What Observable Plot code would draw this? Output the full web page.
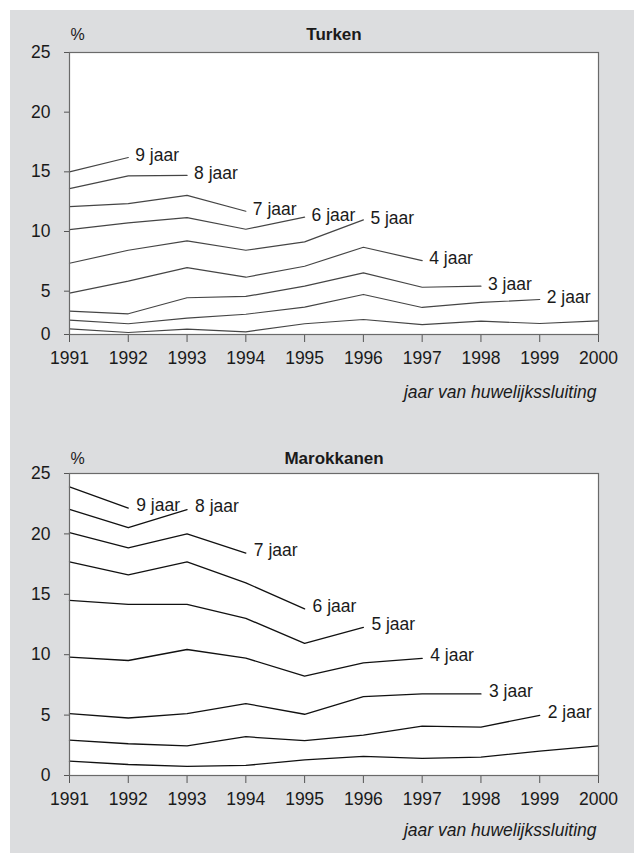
<!DOCTYPE html>
<html>
<head>
<meta charset="utf-8">
<script src="https://cdn.jsdelivr.net/npm/d3@7"></script>
<script src="https://cdn.jsdelivr.net/npm/@observablehq/plot@0.6"></script>
<style>
  html, body { margin: 0; padding: 0; background: #ffffff; }
  #bg { position: absolute; left: 10px; top: 10px; width: 624px; height: 843px; background: #dcdddf; }
  #charts { position: absolute; left: 0; top: 0; width: 634px; }
  #charts svg { display: block; }
</style>
</head>
<body>
<div id="bg"></div>
<div id="charts"></div>
<script>
// ---- data ----
const years = [1991, 1992, 1993, 1994, 1995, 1996, 1997, 1998, 1999, 2000];
const durationLabels = ["1 jaar", "2 jaar", "3 jaar", "4 jaar", "5 jaar", "6 jaar", "7 jaar", "8 jaar", "9 jaar"];
const yTicks = [0, 5, 10, 15, 20, 25];

const turkenTitle = "Turken";
const turken1 = [0.66, 0.23, 0.61, 0.31, 1.24, 1.73, 1.15, 1.54, 1.27, 1.58];
const turken2 = [1.65, 1.24, 1.88, 2.34, 3.15, 4.62, 3.12, 3.70, 4.04];
const turken3 = [2.69, 2.39, 4.24, 4.39, 5.42, 6.54, 5.33, 5.42];
const turken4 = [4.77, 5.84, 6.98, 6.17, 7.09, 8.68, 7.56];
const turken5 = [7.34, 8.43, 9.22, 8.43, 9.13, 10.97];
const turken6 = [10.16, 10.72, 11.17, 10.19, 11.20];
const turken7 = [12.09, 12.34, 13.03, 11.70];
const turken8 = [13.60, 14.66, 14.70];
const turken9 = [15.00, 16.20];

const marokTitle = "Marokkanen";
const marok1 = [1.19, 0.91, 0.75, 0.83, 1.30, 1.58, 1.41, 1.52, 2.02, 2.46];
const marok2 = [2.93, 2.63, 2.46, 3.21, 2.88, 3.35, 4.09, 4.01, 4.98];
const marok3 = [5.12, 4.76, 5.12, 5.95, 5.07, 6.53, 6.75, 6.75];
const marok4 = [9.80, 9.52, 10.43, 9.72, 8.22, 9.33, 9.69];
const marok5 = [14.50, 14.17, 14.17, 13.01, 10.93, 12.26];
const marok6 = [17.69, 16.61, 17.69, 15.95, 13.79];
const marok7 = [20.10, 18.85, 20.00, 18.41];
const marok8 = [22.03, 20.51, 22.00];
const marok9 = [23.89, 22.14];

const xTitle = "jaar van huwelijkssluiting";
const unitLabel = "%";

// ---- helpers ----
function toRows(seriesList) {
  const rows = [];
  seriesList.forEach((vals, i) => {
    vals.forEach((v, j) => rows.push({duration: durationLabels[i], year: years[j], value: v}));
  });
  return rows;
}
function lastRows(seriesList) {
  // labels for all series except the first (1 jaar)
  return seriesList.slice(1).map((vals, k) => ({
    duration: durationLabels[k + 1],
    year: years[vals.length - 1],
    value: vals[vals.length - 1]
  }));
}

// The Turken panel's axis is compressed between 0 and 5 (as in the original figure)
const BREAK = 5, SQUEEZE = 0.726;
const squeeze = v => (v >= BREAK ? v : BREAK - (BREAK - v) * SQUEEZE);
const unsqueeze = t => (t >= BREAK ? t : BREAK - (BREAK - t) / SQUEEZE);
const identity = v => v;

const FONT = "'Liberation Sans', Arial, Helvetica, sans-serif";

function panel({series, title, height, marginTop, marginBottom, fwd, inv, lineColor, lineWidth, labelDx, labelDy, titleDy, axisTitleDy}) {
  const rows = toRows(series);
  const labels = lastRows(series);
  const yv = d => fwd(d.value);
  return Plot.plot({
    width: 634,
    height,
    marginLeft: 69,
    marginRight: 36,
    marginTop,
    marginBottom,
    style: {fontFamily: FONT, fontSize: "17.5px", background: "transparent", color: "#1a1a1a", overflow: "visible"},
    x: {domain: [years[0], years[years.length - 1]]},
    y: {domain: [fwd(yTicks[0]), fwd(yTicks[yTicks.length - 1])]},
    marks: [
      Plot.frame({fill: "white", stroke: "none"}),
      Plot.axisY({ticks: yTicks.map(fwd), tickSize: 5, tickPadding: 14, stroke: "#555", fill: "#1a1a1a", tickFormat: t => String(Math.round(inv(t))), label: null}),
      Plot.axisX({ticks: years, tickSize: 8, tickPadding: 9, stroke: "#555", fill: "#1a1a1a", tickFormat: d => String(d), label: null}),
      Plot.line(rows, {x: "year", y: yv, z: "duration", stroke: lineColor, strokeWidth: lineWidth}),
      Plot.text(labels, {x: "year", y: yv, text: "duration", textAnchor: "start", dx: labelDx, dy: labelDy, fill: "#1a1a1a", fontSize: 17.5}),
      Plot.frame({stroke: "#6a6a6a", strokeWidth: 1.2}),
      Plot.text([title], {frameAnchor: "top", lineAnchor: "middle", dy: titleDy, text: d => d, fontWeight: "bold", fontSize: 17, fill: "#1a1a1a"}),
      Plot.text([unitLabel], {frameAnchor: "top-left", lineAnchor: "middle", textAnchor: "start", dx: 1, dy: titleDy, text: d => d, fontSize: 16, fill: "#1a1a1a"}),
      Plot.text([xTitle], {frameAnchor: "bottom-right", lineAnchor: "middle", textAnchor: "end", dx: -2, dy: axisTitleDy, text: d => d, fontStyle: "italic", fontSize: 17.5, fill: "#1a1a1a"})
    ]
  });
}

const topPanel = panel({
  series: [turken1, turken2, turken3, turken4, turken5, turken6, turken7, turken8, turken9],
  title: turkenTitle,
  height: 426, marginTop: 52, marginBottom: 92,
  fwd: squeeze, inv: unsqueeze,
  lineColor: "#454545", lineWidth: 1.2, labelDx: 7, labelDy: -2,
  titleDy: -18, axisTitleDy: 58
});
const bottomPanel = panel({
  series: [marok1, marok2, marok3, marok4, marok5, marok6, marok7, marok8, marok9],
  title: marokTitle,
  height: 427, marginTop: 47, marginBottom: 78,
  fwd: identity, inv: identity,
  lineColor: "#111111", lineWidth: 1.3, labelDx: 8, labelDy: -3,
  titleDy: -15, axisTitleDy: 55
});
const holder = document.getElementById("charts");
holder.appendChild(topPanel);
holder.appendChild(bottomPanel);
</script>
</body>
</html>
